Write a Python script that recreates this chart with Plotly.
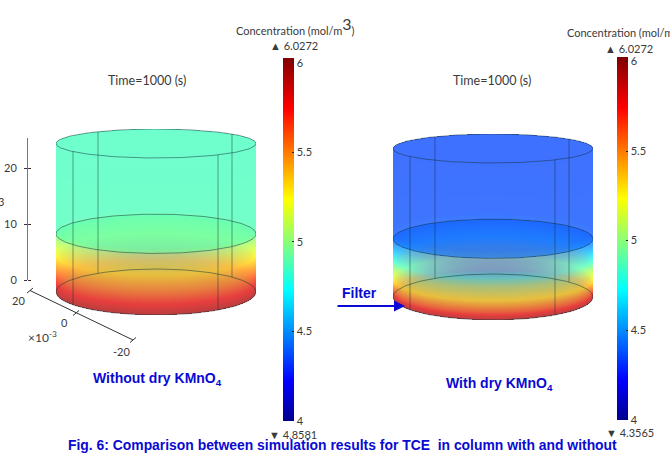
import numpy as np
import plotly.graph_objects as go

# ---------- values ----------
z_ticks = [0, 10, 20]
bar_ticks = [4, 4.5, 5, 5.5, 6]
bar_tick_text = ["4", "4.5", "5", "5.5", "6"]
c_axis_min = 4.0
c_axis_max = 6.0272

heights_left = [0, 1.2, 3.7, 6.2, 8.75, 10.5, 25]
conc_left = [5.95, 5.8, 5.5, 5.25, 5.05, 4.87, 4.8581]

heights_right = [0, 1.3, 3.0, 5.2, 6.7, 9.3, 11, 25]
conc_right = [5.95, 5.6, 5.25, 5.0, 4.72, 4.45, 4.37, 4.3565]

column_radius = 25.0
column_height = 25.0
filter_level = 9.8
edge_fraction_front = [-0.83, 0.62]
edge_fraction_back = [-0.58, 0.76]

JET = [[0, "#00008F"], [0.11, "#0000FF"], [0.36, "#00FFFF"], [0.61, "#FFFF00"],
       [0.86, "#FF0000"], [1, "#800000"]]

# ---------- layout constants (pixels of the 670x456 page) ----------
W, H = 670, 456
B_BOT, B_TOP = 3.87, 2.44       # semi-minor axis of the ellipses, in z units
LAYER_ALPHA = 0.5
TEXT = "#3a3a3a"
BLUE = "#0a0ad2"
NARROW = "Lato, Liberation Sans, sans-serif"
FAM = "Liberation Sans, sans-serif"


def px(x):
    return x / W


def py(y):
    return 1 - y / H


k = (B_TOP - B_BOT) / column_height
R = column_radius
HT = column_height
ys_lo, ys_hi = -B_BOT, HT + B_TOP


def b_of(z):
    return B_BOT + k * z


fig = go.Figure()


def add_panel(idx, x0, x1, ytop, ybot, heights, conc):
    xa, ya = f"x{idx}", f"y{idx}"
    nx = int(round(x1 - x0))
    ny = int(round(ybot - ytop))
    xs = np.linspace(-R, R, nx, endpoint=False) + R / nx
    ysc = np.linspace(ys_lo, ys_hi, ny, endpoint=False) + (ys_hi - ys_lo) / ny / 2
    X, Y = np.meshgrid(xs, ysc)
    u = np.clip(1 - (X / R) ** 2, 0, 1)
    s = np.sqrt(u)

    def field(z):
        return np.interp(z, heights, conc)

    def wall(sign):
        # sign=-1 front wall (appears lower on the page), sign=+1 back wall
        z = (Y - sign * B_BOT * s) / (1 + sign * k * s)
        out = field(z)
        out[(z < 0) | (z > HT)] = np.nan
        return out

    def disc(level):
        b = b_of(level)
        out = np.full(X.shape, float(field(np.array([level]))[0]))
        out[(X / R) ** 2 + ((Y - level) / b) ** 2 > 1] = np.nan
        return out

    layers = [wall(1), disc(0.0), disc(filter_level), disc(HT), wall(-1)]
    for lay in layers:
        fig.add_trace(go.Heatmap(x=xs, y=ysc, z=lay.astype("float32"), xaxis=xa, yaxis=ya,
                                 coloraxis=f"coloraxis{'' if idx == 1 else idx}",
                                 opacity=LAYER_ALPHA, hoverinfo="skip", zsmooth=False))

    th = np.linspace(0, 2 * np.pi, 181)
    for level in [0.0, filter_level, HT]:
        fig.add_trace(go.Scatter(x=R * np.cos(th), y=level + b_of(level) * np.sin(th), mode="lines",
                                 line=dict(color="rgba(20,50,60,0.5)", width=1), xaxis=xa, yaxis=ya,
                                 hoverinfo="skip", showlegend=False))
    for frac_list, sign in [(edge_fraction_front, -1), (edge_fraction_back, 1)]:
        for f in frac_list:
            ss = np.sqrt(1 - f * f)
            fig.add_trace(go.Scatter(x=[f * R, f * R],
                                     y=[HT + sign * b_of(HT) * ss, 0 + sign * b_of(0) * ss],
                                     mode="lines", line=dict(color="rgba(20,40,50,0.45)", width=1),
                                     xaxis=xa, yaxis=ya, hoverinfo="skip", showlegend=False))
    hidden = dict(visible=False, fixedrange=True)
    fig.update_layout({
        f"xaxis{idx}": dict(domain=[px(x0), px(x1)], range=[-R, R], anchor=ya, **hidden),
        f"yaxis{idx}": dict(domain=[py(ybot), py(ytop)], range=[ys_lo, ys_hi], anchor=xa, **hidden),
    })


add_panel(1, 56, 256, 129, 315, heights_left, conc_left)
add_panel(2, 393, 593, 134, 320, heights_right, conc_right)


def caxis(x_left, top, bot):
    return dict(cmin=c_axis_min, cmax=c_axis_max, colorscale=JET,
                colorbar=dict(x=px(x_left), xanchor="left", xpad=0, ypad=0,
                              y=py(top), yanchor="top", len=(bot - top) / H, lenmode="fraction",
                              thickness=10.5, thicknessmode="pixels", outlinewidth=0,
                              tickvals=bar_ticks, ticktext=bar_tick_text, ticks="inside", ticklen=2,
                              tickcolor="#222", tickfont=dict(family=NARROW, size=11, color=TEXT)))


fig.update_layout(coloraxis=caxis(282.7, 58, 421), coloraxis2=caxis(617.3, 56.7, 420))

# vertical z axis of the left panel
fig.add_trace(go.Scatter(x=[0 for _ in z_ticks], y=z_ticks, mode="markers", marker=dict(opacity=0),
                         xaxis="x3", yaxis="y3", hoverinfo="skip", showlegend=False))
fig.update_layout(
    xaxis3=dict(domain=[px(28), px(30)], anchor="y3", visible=False, range=[0, 1]),
    yaxis3=dict(domain=[py(280), py(138)], range=[0, 142 / 5.6], anchor="x3", side="left",
                showgrid=False, zeroline=False, showline=True, linecolor="#777", linewidth=1,
                tickvals=z_ticks, ticks="outside", ticklen=3, tickcolor="#333", ticklabelstandoff=5,
                minor=dict(tickvals=z_ticks, ticks="inside", ticklen=3, tickcolor="#333"),
                tickfont=dict(family=NARROW, size=11, color=TEXT)),
)

# oblique horizontal axis (decoration of the left panel)
shapes = [dict(type="line", xref="paper", yref="paper", x0=px(30), y0=py(290.5), x1=px(133), y1=py(340),
               line=dict(color="#333", width=1))]
for cx, cy in [(30, 290.5), (76, 313), (133, 340)]:
    shapes.append(dict(type="line", xref="paper", yref="paper", x0=px(cx - 3), y0=py(cy + 2.5),
                       x1=px(cx + 3), y1=py(cy - 2.5), line=dict(color="#333", width=1)))
fig.update_layout(shapes=shapes)


def note(text, x, y, size=12, color=TEXT, family=NARROW, anchor="center", bold=False):
    fig.add_annotation(text=f"<b>{text}</b>" if bold else text, x=px(x), y=py(y), xref="paper", yref="paper",
                       showarrow=False, xanchor=anchor, yanchor="middle",
                       font=dict(size=size, color=color, family=family), align="center",
                       borderpad=0, borderwidth=0)


note("20", 18, 300, 11)
note("0", 64, 322, 11)
note("-20", 121, 351, 11)
note("×10<sup>-3</sup>", 42, 337, 12)
note("3", 1, 202, 11)

note("Time=1000 (s)", 146.5, 80, 12.5)
note("Time=1000 (s)", 491.5, 80, 12.5)

CONC = 'Concentration (mol/m<sup><span style="font-size:16px">3</span></sup>)'
note(CONC, 236, 25, 11, anchor="left")
note(CONC, 567, 27, 11, anchor="left")

note("▲ 6.0272", 293.5, 46, 11)
note("▼ 4.8581", 293, 434, 11)
note("▲ 6.0272", 628.5, 48, 11)
note("▼ 4.3565", 630, 432, 11)

note("Without dry KMnO<sub>4</sub>", 157, 379, 14, BLUE, FAM, bold=True)
note("With dry KMnO<sub>4</sub>", 499, 384, 14, BLUE, FAM, bold=True)
note("Filter", 359, 293, 14, BLUE, FAM, bold=True)
note("Fig. 6: Comparison between simulation results for TCE  in column with and without", 342, 445, 13.9,
     BLUE, FAM, bold=True)

fig.add_annotation(x=px(405), y=py(306), ax=-69, ay=0, xref="paper", yref="paper",
                   axref="pixel", ayref="pixel", text="", showarrow=True, arrowhead=2, arrowsize=1.1,
                   arrowwidth=2, arrowcolor="#0a0ad2")

fig.update_layout(width=W, height=H, margin=dict(l=0, r=0, t=0, b=0, autoexpand=False), autosize=False,
                  paper_bgcolor="white", plot_bgcolor="rgba(0,0,0,0)", showlegend=False)
fig.write_html("out.html", config={"displayModeBar": False},
               post_script="document.body.style.margin='0';document.documentElement.style.overflow='hidden';")
